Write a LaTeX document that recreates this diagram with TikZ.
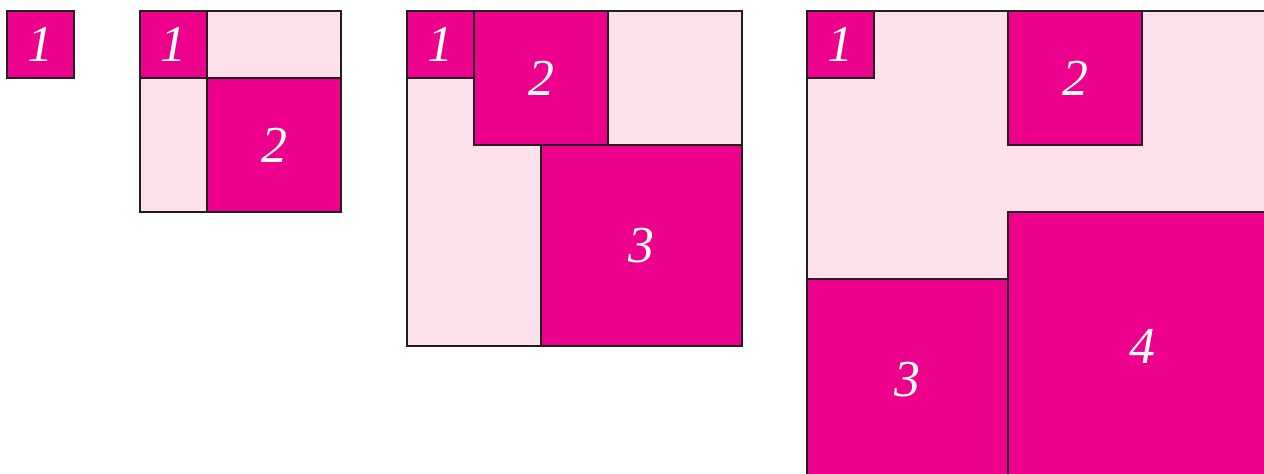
\documentclass[tikz,border=0pt]{standalone}
\usepackage{fontspec}
\setmainfont{Liberation Serif}
\usepackage{xcolor}
\usetikzlibrary{calc}
\definecolor{mag}{HTML}{EC008C}
\definecolor{pale}{HTML}{FCE0EA}
\definecolor{edge}{HTML}{231F20}
\tikzset{
  darksq/.style={fill=mag, draw=edge, line width=1.1pt},
  palesq/.style={fill=pale, draw=edge, line width=1.1pt},
  num/.style={text=white, font=\fontsize{22}{24}\selectfont\itshape, inner sep=0pt}
}

\begin{document}
\begin{tikzpicture}[x=1cm, y=-1cm]
			% 画布大小
			\useasboundingbox (0,0) rectangle (18.866,7.06);
			\clip (0,0) rectangle (18.866,7.06);
			
			% 第一步：边长 1
			\begin{scope}[shift={(0.1045,0.164)}]
				\draw[darksq] (0,0) rectangle (1,1);
				\node[num] (a1) at (0.5,0.5) {1};
			\end{scope}
			
			% 第二步：边长 1+2
			\begin{scope}[shift={(2.09,0.164)}]
				\draw[palesq] (0,0) rectangle (3,3);
				\draw[darksq] (0,0) rectangle (1,1);
				\draw[darksq] (1,1) rectangle (3,3);
				\node[num] (b1) at (0.5,0.5) {1};
				\node[num] (b2) at (2,2) {2};
			\end{scope}
			
			% 第三步：边长 2+3
			\begin{scope}[shift={(6.075,0.164)}]
				\draw[palesq] (0,0) rectangle (5,5);
				\draw[palesq] (3,0) rectangle (5,2);
				\draw[darksq] (0,0) rectangle (1,1);
				\draw[darksq] (1,0) rectangle (3,2);
				\draw[darksq] (2,2) rectangle (5,5);
				\node[num] (c1) at (0.5,0.5) {1};
				\node[num] (c2) at (2,1) {2};
				\node[num] (c3) at (3.5,3.5) {3};
			\end{scope}
			
			% 第四步：边长 3+4（右侧和下侧被裁掉）
			\begin{scope}[shift={(12.045,0.164)}]
				\draw[palesq] (0,0) rectangle (7,7);
				\draw[darksq] (0,0) rectangle (1,1);
				\draw[darksq] (3,0) rectangle (5,2);
				\draw[darksq] (0,4) rectangle (3,7);
				\draw[darksq] (3,3) rectangle (7,7);
				\node[num] (d1) at (0.5,0.5) {1};
				\node[num] (d2) at (4,1) {2};
				\node[num] (d3) at (1.5,5.5) {3};
				\node[num] (d4) at (5,5) {4};
			\end{scope}
		\end{tikzpicture}
\end{document}
